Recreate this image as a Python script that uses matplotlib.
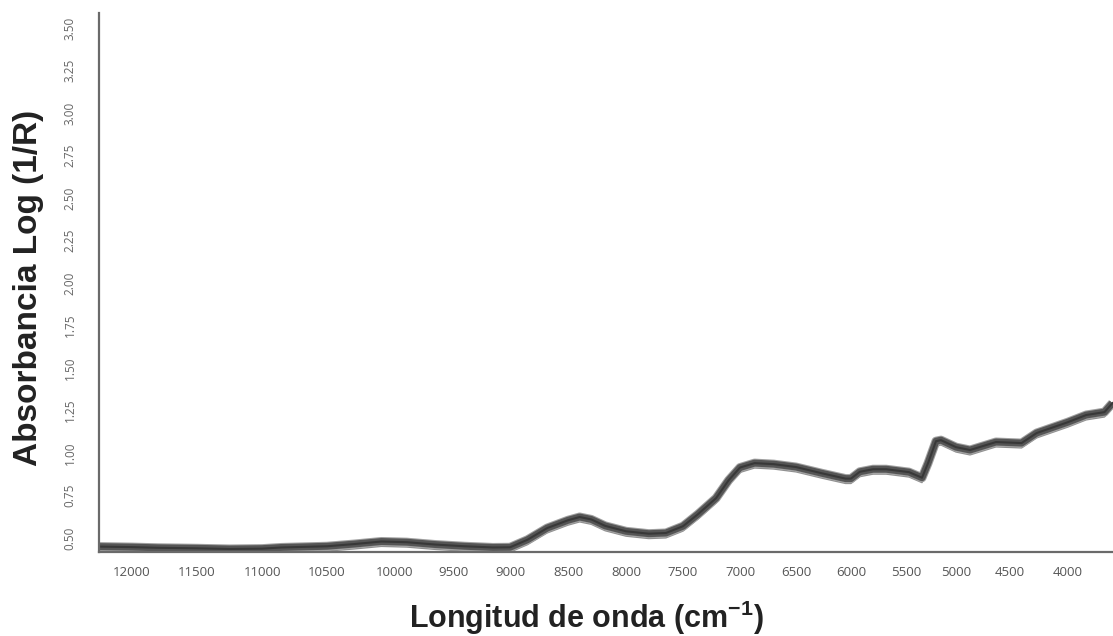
import numpy as np
import matplotlib
matplotlib.use('Agg')
import matplotlib.pyplot as plt
import matplotlib.patheffects as pe

plt.rcParams['mathtext.fontset'] = 'custom'
plt.rcParams['mathtext.rm'] = 'Liberation Sans'
plt.rcParams['mathtext.bf'] = 'Liberation Sans:bold'

# spectrum (wavenumber cm-1, absorbance)
wavenumber = [12250, 12000, 11800, 11500, 11250, 11000, 10850, 10500, 10300, 10100,
              9900, 9650, 9400, 9150, 9000, 8850, 8680, 8500, 8400, 8300,
              8180, 8000, 7800, 7650, 7500, 7370, 7210, 7100, 7000, 6870,
              6700, 6500, 6270, 6050, 6000, 5920, 5800, 5680, 5470, 5340,
              5280, 5200, 5150, 5000, 4870, 4630, 4400, 4270, 4000, 3840,
              3680, 3610]
absorbance = [0.450, 0.447, 0.443, 0.440, 0.436, 0.438, 0.445, 0.452, 0.465, 0.480,
              0.476, 0.462, 0.452, 0.445, 0.446, 0.490, 0.559, 0.605, 0.624, 0.610,
              0.572, 0.540, 0.526, 0.530, 0.570, 0.640, 0.735, 0.840, 0.915, 0.941,
              0.935, 0.918, 0.882, 0.850, 0.850, 0.890, 0.905, 0.905, 0.888, 0.855,
              0.940, 1.070, 1.076, 1.035, 1.018, 1.065, 1.059, 1.118, 1.182, 1.224,
              1.241, 1.294]

xticks = [12000, 11500, 11000, 10500, 10000, 9500, 9000, 8500, 8000,
          7500, 7000, 6500, 6000, 5500, 5000, 4500, 4000]
yticks = [0.50, 0.75, 1.00, 1.25, 1.50, 1.75, 2.00, 2.25, 2.50, 2.75, 3.00, 3.25, 3.50]

# the printed x axis is not evenly spaced, so warp it like the original
warp_wn = np.array([12500] + xticks + [3500], dtype=float)
warp_pos = np.array([67, 132, 197, 262, 327, 395, 453, 510, 568, 626,
                     683, 740, 796, 851, 906, 956, 1010, 1068, 1125], dtype=float)

# increasing in wavenumber, axis gets inverted by the limits below
def fwd(w):
    return -np.interp(w, warp_wn[::-1], warp_pos[::-1])

def inv(p):
    return np.interp(-p, warp_pos, warp_wn)

fig = plt.figure(figsize=(11.13, 6.36), dpi=100)
ax = fig.add_axes([0.089, 0.132, 0.911, 0.848])

ax.set_xscale('function', functions=(fwd, inv))

ax.plot(wavenumber, absorbance, color='#555555', lw=5, solid_capstyle='butt',
        path_effects=[pe.Stroke(linewidth=1.0, foreground='#909090', offset=(0, -3.5)),
                      pe.Stroke(linewidth=6.5, foreground='#a0a0a0'),
                      pe.Normal()])
ax.plot(wavenumber, absorbance, color='#383838', lw=1.5)

ax.set_xlim(12254, 3605)
ax.set_ylim(0.418, 3.59)

ax.set_xticks(xticks)
ax.set_xticklabels([str(t) for t in xticks], family='Open Sans', fontsize=9.5, color='#555555')
ax.set_yticks(yticks)
ax.set_yticklabels(['%.2f' % t for t in yticks], family='Open Sans', fontsize=8.5,
                   color='#666666', rotation=90, va='center')
ax.tick_params(axis='both', length=0)
ax.tick_params(axis='x', pad=10)
ax.tick_params(axis='y', pad=16)

for s in ['top', 'right']:
    ax.spines[s].set_visible(False)
for s in ['left', 'bottom']:
    ax.spines[s].set_color('#6a6a6a')
    ax.spines[s].set_linewidth(1.6)

ax.set_ylabel('Absorbancia Log (1/R)', family='Liberation Sans', fontweight='bold',
              fontsize=24, color='#222222')
ax.yaxis.set_label_coords(-0.070, 0.49)
ax.yaxis.label.set_va('center')

ax.set_xlabel(r'Longitud de onda (cm$^{\mathbf{-1}}$)', family='Liberation Sans',
              fontweight='bold', fontsize=22, color='#222222')
ax.xaxis.set_label_coords(0.481, -0.122)
ax.xaxis.label.set_va('center')

fig.savefig('out.png', dpi=100)
